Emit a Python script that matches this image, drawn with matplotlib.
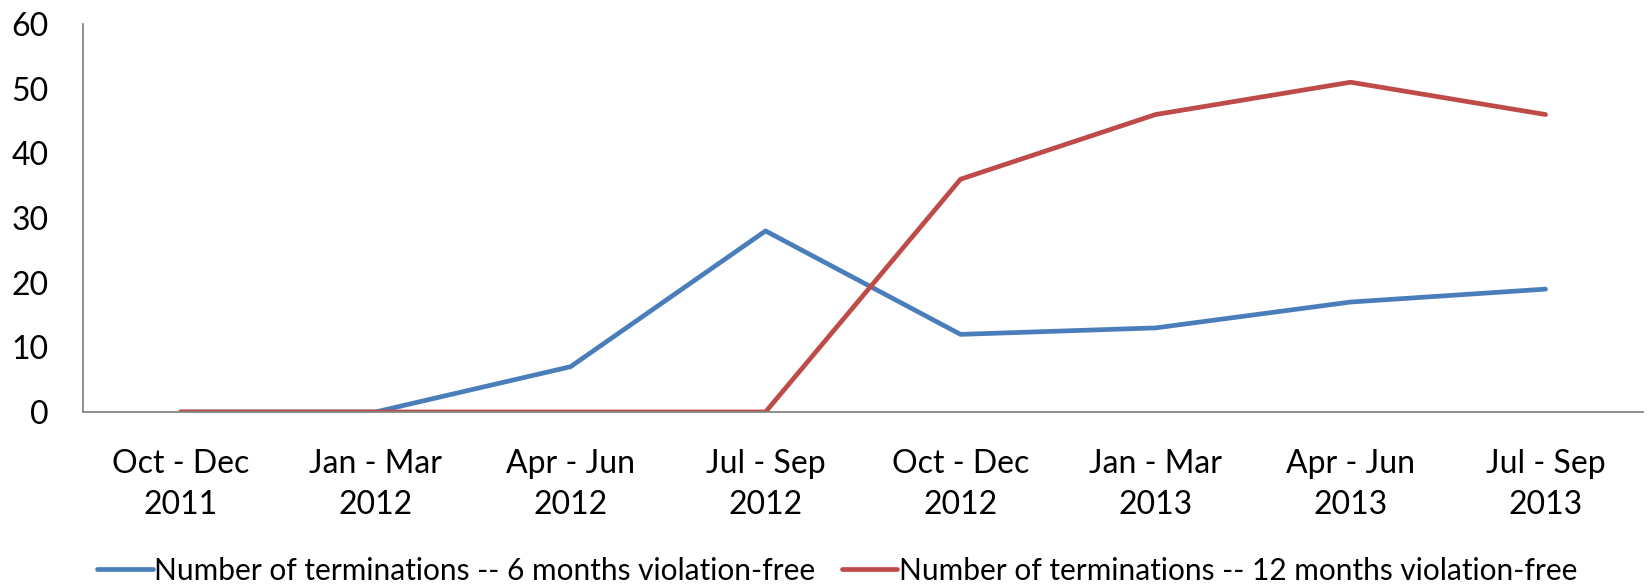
#!/usr/bin/env python3
"""terminations_chart.py"""

import matplotlib
matplotlib.use("Agg")
import matplotlib.pyplot as plt
import numpy as np

quarters = [
    "Oct - Dec\n2011", "Jan - Mar\n2012", "Apr - Jun\n2012", "Jul - Sep\n2012",
    "Oct - Dec\n2012", "Jan - Mar\n2013", "Apr - Jun\n2013", "Jul - Sep\n2013",
]
six_months = [0, 0, 7, 28, 12, 13, 17, 19]
twelve_months = [0, 0, 0, 0, 36, 46, 51, 46]
series_labels = [
    "Number of terminations -- 6 months violation-free",
    "Number of terminations -- 12 months violation-free",
]

plt.rcParams["font.family"] = ["Lato", "DejaVu Sans"]

fig = plt.figure(figsize=(16.48, 5.86), dpi=100)
ax = fig.add_axes([0.0504, 0.297, 0.9466, 0.662])

x = np.arange(len(quarters))
ax.plot(x, six_months, color="#4A7EBB", lw=3.4, solid_capstyle="round",
        label=series_labels[0])
ax.plot(x, twelve_months, color="#BE4B48", lw=3.4, solid_capstyle="round",
        label=series_labels[1])

ax.set_xlim(-0.5, len(quarters) - 0.5)
ax.set_ylim(0, 60)
ax.set_yticks(range(0, 61, 10))
ax.set_xticks(x)
ax.set_xticklabels(quarters, fontsize=23, linespacing=1.45)
ax.tick_params(axis="y", labelsize=23, length=0, pad=25)
ax.tick_params(axis="x", length=0, pad=27)

for side in ("top", "right"):
    ax.spines[side].set_visible(False)
for side in ("left", "bottom"):
    ax.spines[side].set_color("#878787")
    ax.spines[side].set_linewidth(1.3)

fig.legend(loc="center", bbox_to_anchor=(0.508, 0.026), ncol=2, frameon=False,
           fontsize=21.5, handlelength=1.85, handletextpad=0.05, columnspacing=0.9)

fig.savefig("out.png", dpi=100)
